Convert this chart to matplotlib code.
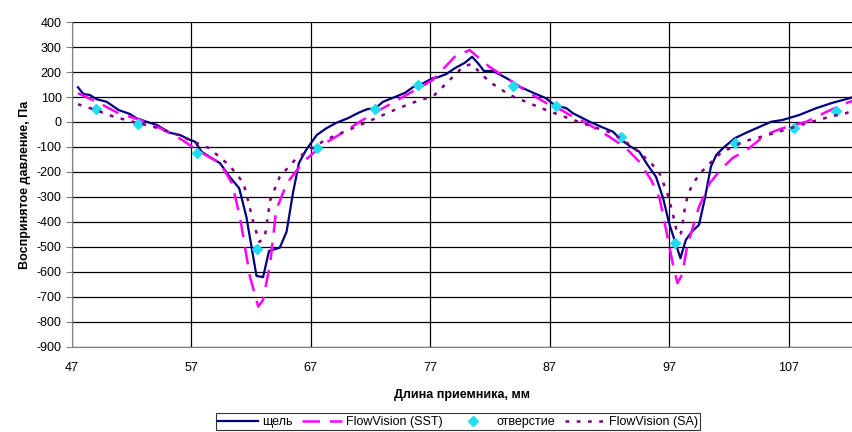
import matplotlib.pyplot as plt

plt.rcParams['font.family'] = ['Liberation Sans', 'DejaVu Sans']
plt.rcParams['axes.unicode_minus'] = False

# щель (slot) - measured
x_slot = [47.5, 47.95, 48.5, 49.07, 49.9, 50.9, 51.85, 52.4, 53.25, 54.1, 55.2, 56.04, 56.9, 57.3,
          57.85, 58.5, 59.4, 60.2, 61.0, 61.6, 62.45, 63.0, 63.5, 64.4, 64.97, 65.5, 66.0, 66.6,
          67.5, 68.3, 69.15, 70.1, 71.0, 71.7, 72.4, 73.05, 74.0, 74.9, 75.6, 76.4, 77.2, 77.65,
          78.35, 79.05, 79.9, 80.5, 81.0, 81.5, 82.25, 83.4, 84.5, 85.7, 86.7, 87.4, 88.4, 88.95,
          90.35, 91.5, 92.3, 93.0, 93.8, 94.5, 95.2, 95.9, 96.5, 97.0, 97.95, 98.4, 98.9, 99.5,
          99.97, 100.5, 100.95, 101.5, 102.5, 103.45, 104.6, 105.55, 106.5, 107.9, 109.3, 110.7,
          112.1, 112.4]
y_slot = [139, 112, 108, 91, 81, 48, 32, 15, 1, -12, -43, -52, -72, -79,
          -119, -139, -165, -219, -265, -379, -616, -621, -516, -503, -439, -285, -165, -112,
          -52, -25, -3, 15, 37, 51, 55, 81, 99, 117, 141, 155, 175, 179,
          192, 215, 237, 261, 235, 204, 204, 175, 141, 115, 95, 68, 55, 35,
          1, -23, -39, -72, -99, -119, -172, -219, -305, -405, -545, -472, -439, -412,
          -312, -179, -132, -105, -65, -43, -19, 1, 8, 28, 55, 77,
          95, 100]

# FlowVision (SST)
x_sst = [47.5, 49.3, 50.9, 52.7, 54.4, 56.0, 57.7, 59.4, 60.4, 61.06, 61.9, 62.6, 63.0, 63.6,
         64.1, 65.0, 65.8, 66.6, 67.5, 68.4, 69.8, 71.2, 72.5, 74.0, 76.0, 77.2, 79.05, 80.3,
         81.1, 81.95, 83.65, 85.3, 87.0, 88.1, 88.6, 90.1, 92.0, 93.4, 94.5, 95.5, 96.2, 96.75,
         97.3, 97.7, 98.1, 98.5, 99.0, 99.5, 100.4, 101.3, 102.3, 103.7, 105.1, 106.5, 108.5,
         110.2, 111.8, 112.4]
y_sst = [115, 75, 35, 8, -25, -65, -119, -165, -245, -379, -619, -739, -712, -565,
         -352, -245, -195, -150, -112, -79, -39, 4, 41, 81, 135, 168, 261, 288,
         255, 221, 168, 115, 68, 45, 30, -5, -59, -105, -159, -232, -305, -432,
         -565, -645, -610, -500, -420, -340, -245, -192, -145, -105, -50, -25, 1,
         41, 75, 85]

# отверстие (hole)
x_hole = [49.0, 52.5, 57.5, 62.5, 67.5, 72.4, 76.0, 83.9, 87.5, 93.0, 97.5, 102.5, 107.5, 111.0]
y_hole = [52, -7, -125, -509, -105, 53, 148, 144, 64, -61, -485, -83, -23, 44]

# FlowVision (SA)
x_sa = [47.5, 48.8, 50.5, 52.1, 53.8, 55.5, 57.0, 58.5, 60.2, 61.3, 61.6, 62.2, 62.7, 63.15,
        63.6, 64.4, 65.8, 68.2, 69.8, 72.1, 74.0, 75.4, 77.3, 79.75, 80.45, 81.95, 83.65, 85.3,
        86.7, 88.4, 90.6, 92.3, 94.1, 95.5, 96.2, 96.9, 97.3, 97.7, 98.0, 98.3, 98.6, 99.1,
        99.6, 100.7, 101.3, 102.6, 103.7, 104.3, 106.0, 108.5, 110.7, 111.8, 112.4]
y_sa = [71, 51, 21, 1, -19, -45, -75, -105, -175, -240, -285, -405, -480, -459,
        -312, -219, -145, -72, -39, 8, 48, 75, 105, 221, 232, 161, 108, 75,
        48, 18, -19, -45, -105, -165, -205, -292, -365, -450, -445, -350, -285, -240,
        -205, -152, -125, -92, -72, -65, -42, -5, 24, 35, 45]

fig = plt.figure(figsize=(8.53, 4.32), dpi=100)
ax = fig.add_axes([0.0844, 0.197, 0.9156, 0.752])

ax.plot(x_slot, y_slot, color='#000080', lw=1.6, label='щель')
ax.plot(x_sst, y_sst, color='#FF00FF', lw=1.8, dashes=(7, 4), label='FlowVision (SST)')
ax.plot(x_hole, y_hole, ls='none', marker='D', ms=5.5, color='#22DDEE',
        markeredgecolor='#22DDEE', label='отверстие')
ax.plot(x_sa, y_sa, color='#800080', lw=1.8, dashes=(1.5, 3), label='FlowVision (SA)')

ax.set_xlim(47, 112.4)
ax.set_ylim(-900, 400)
ax.set_xticks(range(47, 112, 10))
ax.set_yticks(range(-900, 401, 100))
ax.grid(True, color='black', lw=0.9)
ax.set_axisbelow(True)
for s in ['top', 'right']:
    ax.spines[s].set_visible(False)
ax.spines['left'].set_color('#808080')
ax.spines['bottom'].set_color('#808080')
ax.tick_params(axis='y', length=4, color='#808080', labelsize=9)
ax.tick_params(axis='x', length=0, pad=11, labelsize=9)

ax.set_xlabel('Длина приемника, мм', fontsize=9, fontweight='bold', labelpad=11)
ax.set_ylabel('Воспринятое давление, Па', fontsize=9, fontweight='bold', labelpad=4)

leg = fig.legend(loc='upper center', bbox_to_anchor=(0.537, 0.043), ncol=4, fontsize=9,
                 frameon=True, fancybox=False, edgecolor='black', handlelength=3.2,
                 handletextpad=0.3, columnspacing=0.8, borderpad=0.2, borderaxespad=0)
leg.get_frame().set_linewidth(0.8)

fig.savefig('out.png', dpi=100)
